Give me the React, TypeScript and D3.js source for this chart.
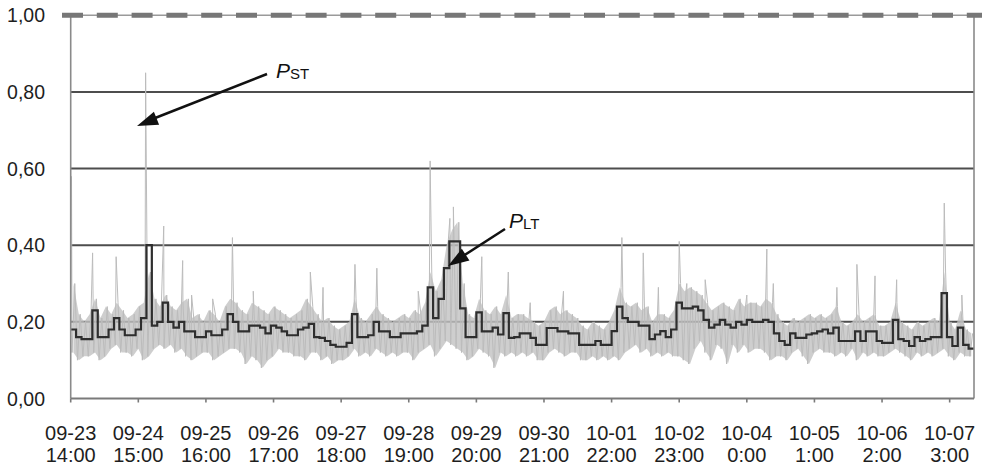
import React from "react";
import * as d3 from "d3";

const W = 982;
const H = 468;

// x axis: hours since 09-23 14:00, one label every 25 h
const tickDates = ["09-23", "09-24", "09-25", "09-26", "09-27", "09-28", "09-29", "09-30", "10-01", "10-02", "10-04", "10-05", "10-06", "10-07"];
const tickTimes = ["14:00", "15:00", "16:00", "17:00", "18:00", "19:00", "20:00", "21:00", "22:00", "23:00", "0:00", "1:00", "2:00", "3:00"];
const tickHours = [0, 25, 50, 75, 100, 125, 150, 175, 200, 225, 250, 275, 300, 325];
const yTicks = [0, 0.2, 0.4, 0.6, 0.8, 1.0];
const limit = 1.0;

// P_LT, 2-hour values
const pltValues = [
  0.18, 0.16, 0.155, 0.155, 0.23, 0.16, 0.16, 0.18, 0.21, 0.18,
  0.165, 0.165, 0.18, 0.21, 0.40, 0.19, 0.20, 0.25, 0.20, 0.185,
  0.20, 0.175, 0.175, 0.16, 0.16, 0.175, 0.165, 0.165, 0.18, 0.22,
  0.20, 0.175, 0.175, 0.19, 0.19, 0.185, 0.17, 0.19, 0.185, 0.175,
  0.165, 0.165, 0.18, 0.185, 0.195, 0.16, 0.158, 0.15, 0.14, 0.135,
  0.135, 0.145, 0.22, 0.16, 0.16, 0.165, 0.20, 0.175, 0.175, 0.16,
  0.16, 0.17, 0.17, 0.17, 0.175, 0.19, 0.29, 0.21, 0.26, 0.34,
  0.41, 0.41, 0.235, 0.16, 0.16, 0.225, 0.175, 0.175, 0.185, 0.167,
  0.223, 0.158, 0.16, 0.17, 0.17, 0.158, 0.14, 0.14, 0.184, 0.184,
  0.175, 0.175, 0.17, 0.17, 0.14, 0.14, 0.14, 0.15, 0.14, 0.14,
  0.176, 0.24, 0.21, 0.20, 0.20, 0.19, 0.19, 0.155, 0.167, 0.176,
  0.16, 0.18, 0.25, 0.235, 0.235, 0.24, 0.23, 0.205, 0.185, 0.193,
  0.205, 0.193, 0.185, 0.20, 0.193, 0.205, 0.20, 0.20, 0.205, 0.20,
  0.17, 0.15, 0.14, 0.17, 0.158, 0.158, 0.167, 0.17, 0.175, 0.18,
  0.17, 0.185, 0.15, 0.15, 0.15, 0.175, 0.15, 0.175, 0.175, 0.15,
  0.145, 0.145, 0.205, 0.155, 0.15, 0.137, 0.16, 0.15, 0.155, 0.16,
  0.16, 0.275, 0.16, 0.137, 0.185, 0.14, 0.13,
];

// P_ST, low / high envelope for the same 2-hour steps
const pstLow = [
  0.12, 0.10, 0.11, 0.11, 0.12, 0.10, 0.11, 0.13, 0.14, 0.12,
  0.12, 0.11, 0.13, 0.10, 0.11, 0.13, 0.14, 0.13, 0.14, 0.12,
  0.13, 0.11, 0.10, 0.11, 0.12, 0.12, 0.10, 0.11, 0.12, 0.13,
  0.13, 0.12, 0.09, 0.11, 0.10, 0.08, 0.10, 0.11, 0.13, 0.12,
  0.12, 0.11, 0.11, 0.10, 0.12, 0.12, 0.10, 0.11, 0.09, 0.10,
  0.10, 0.11, 0.13, 0.11, 0.12, 0.11, 0.13, 0.12, 0.11, 0.12,
  0.11, 0.12, 0.12, 0.10, 0.12, 0.13, 0.14, 0.11, 0.13, 0.15,
  0.14, 0.13, 0.12, 0.10, 0.11, 0.13, 0.12, 0.11, 0.08, 0.12,
  0.11, 0.12, 0.11, 0.12, 0.11, 0.12, 0.10, 0.10, 0.12, 0.13,
  0.12, 0.11, 0.12, 0.12, 0.10, 0.10, 0.11, 0.10, 0.11, 0.10,
  0.11, 0.10, 0.12, 0.13, 0.14, 0.12, 0.13, 0.11, 0.12, 0.11,
  0.12, 0.11, 0.11, 0.10, 0.09, 0.13, 0.15, 0.12, 0.10, 0.14,
  0.13, 0.09, 0.14, 0.12, 0.14, 0.12, 0.13, 0.13, 0.12, 0.10,
  0.11, 0.11, 0.10, 0.12, 0.13, 0.11, 0.09, 0.12, 0.13, 0.12,
  0.12, 0.11, 0.12, 0.11, 0.13, 0.10, 0.12, 0.11, 0.12, 0.11,
  0.11, 0.12, 0.13, 0.12, 0.11, 0.10, 0.12, 0.11, 0.12, 0.11,
  0.12, 0.13, 0.11, 0.10, 0.12, 0.11, 0.11,
];
const pstHigh = [
  0.30, 0.22, 0.20, 0.22, 0.26, 0.21, 0.24, 0.22, 0.25, 0.23,
  0.21, 0.22, 0.24, 0.25, 0.33, 0.26, 0.24, 0.27, 0.24, 0.23,
  0.25, 0.26, 0.21, 0.22, 0.20, 0.23, 0.22, 0.20, 0.24, 0.26,
  0.25, 0.23, 0.22, 0.25, 0.24, 0.23, 0.22, 0.24, 0.23, 0.22,
  0.21, 0.22, 0.23, 0.26, 0.24, 0.22, 0.20, 0.21, 0.19, 0.18,
  0.19, 0.20, 0.26, 0.21, 0.20, 0.22, 0.24, 0.22, 0.21, 0.20,
  0.21, 0.22, 0.21, 0.23, 0.22, 0.25, 0.33, 0.28, 0.31, 0.40,
  0.44, 0.46, 0.30, 0.22, 0.21, 0.26, 0.23, 0.22, 0.24, 0.22,
  0.27, 0.21, 0.22, 0.22, 0.21, 0.20, 0.19, 0.20, 0.23, 0.24,
  0.22, 0.23, 0.22, 0.21, 0.19, 0.18, 0.20, 0.19, 0.18, 0.20,
  0.23, 0.29, 0.25, 0.24, 0.25, 0.23, 0.24, 0.20, 0.22, 0.22,
  0.21, 0.23, 0.30, 0.28, 0.29, 0.28, 0.27, 0.25, 0.23, 0.24,
  0.25, 0.24, 0.23, 0.26, 0.24, 0.25, 0.25, 0.24, 0.26, 0.25,
  0.22, 0.20, 0.19, 0.21, 0.20, 0.21, 0.22, 0.21, 0.22, 0.21,
  0.22, 0.24, 0.20, 0.19, 0.20, 0.22, 0.20, 0.21, 0.22, 0.19,
  0.19, 0.20, 0.25, 0.20, 0.19, 0.18, 0.20, 0.19, 0.20, 0.21,
  0.20, 0.33, 0.20, 0.18, 0.23, 0.18, 0.17,
];

// isolated P_ST peaks: [hour, value]
const pstSpikes: [number, number][] = [
  [0.3, 0.58], [8.1, 0.38], [16.8, 0.37], [27.7, 0.85], [34.4, 0.45], [41.4, 0.36],
  [44.7, 0.27], [52.5, 0.26], [59.8, 0.42], [67.5, 0.28], [88.6, 0.33], [93.3, 0.29],
  [105.1, 0.35], [113.2, 0.34], [128.5, 0.28], [132.9, 0.62], [140.2, 0.47], [141.5, 0.5],
  [152, 0.37], [161.8, 0.33], [169.9, 0.25], [182.2, 0.28], [203.8, 0.42], [211.7, 0.38],
  [217.3, 0.29], [225, 0.41], [227.8, 0.3], [234.6, 0.31], [250, 0.27], [257.4, 0.39],
  [259.8, 0.3], [283.3, 0.29], [290.7, 0.35], [297.4, 0.32], [305.4, 0.31], [323, 0.51],
  [329.5, 0.27],
];

const STEP = 2;
const font = "'Liberation Sans', Arial, sans-serif";

function arrowHead(x1: number, y1: number, x2: number, y2: number, len = 21, half = 7) {
  const a = Math.atan2(y2 - y1, x2 - x1);
  const bx = x2 - len * Math.cos(a);
  const by = y2 - len * Math.sin(a);
  const px = -Math.sin(a) * half;
  const py = Math.cos(a) * half;
  return `M${x2},${y2}L${bx + px},${by + py}L${bx - px},${by - py}Z`;
}

export default function App() {
  const x = d3.scaleLinear().domain([0, pltValues.length * STEP]).range([70.7, 974]);
  const y = d3.scaleLinear().domain([0, 1]).range([398.5, 15.3]);
  const fmt = (v: number) => d3.format(".2f")(v).replace(".", ",");

  const pstPts: [number, number][] = [];
  pstLow.forEach((lo, i) => {
    pstPts.push([i * STEP + 0.5, lo]);
    pstPts.push([i * STEP + 1.5, pstHigh[i]]);
  });
  pstSpikes.forEach((s) => pstPts.push(s));
  pstPts.sort((a, b) => a[0] - b[0]);

  const pstLine = d3.line<[number, number]>().x((d) => x(d[0])).y((d) => y(d[1]));
  const band = d3
    .area<number>()
    .x((_, i) => x(i * STEP + 1))
    .y0((d) => y(d))
    .y1((_, i) => y(pstHigh[i]));

  const pltPts: [number, number][] = pltValues.map((v, i) => [i * STEP, v]);
  pltPts.push([pltValues.length * STEP, pltValues[pltValues.length - 1]]);
  const pltLine = d3.line<[number, number]>().x((d) => x(d[0])).y((d) => y(d[1])).curve(d3.curveStepAfter);

  const x0 = x.range()[0];
  const x1 = x.range()[1];

  return (
    <svg width={W} height={H} style={{ position: "absolute", left: 0, top: 0, background: "#fff" }}>
      {/* grid */}
      {yTicks.filter((t) => t > 0 && t < limit).map((t) => (
        <line key={t} x1={x0} x2={x1} y1={y(t)} y2={y(t)} stroke="#4d4d4d" strokeWidth={2} />
      ))}

      {/* P_ST */}
      <path d={band(pstLow) || ""} fill="#c2c2c2" fillOpacity={0.8} />
      <path d={pstLine(pstPts) || ""} fill="none" stroke="#bcbcbc" strokeWidth={1} />

      {/* P_LT */}
      <path d={pltLine(pltPts) || ""} fill="none" stroke="#2e2e2e" strokeWidth={2.2} />

      {/* frame */}
      <line x1={x0} x2={x0} y1={y(limit)} y2={y(0)} stroke="#8a8a8a" strokeWidth={1.6} />
      <line x1={x1} x2={x1} y1={y(limit)} y2={y(0)} stroke="#8a8a8a" strokeWidth={1.6} />
      <line x1={x0} x2={x1} y1={y(0)} y2={y(0)} stroke="#7a7a7a" strokeWidth={2} />
      {tickHours.map((h) => (
        <line key={h} x1={x(h)} x2={x(h)} y1={y(0)} y2={y(0) + 4} stroke="#7a7a7a" strokeWidth={1.6} />
      ))}

      {/* limit line */}
      <line x1={62} x2={982} y1={y(limit)} y2={y(limit)} stroke="#9a9a9a" strokeWidth={1.5} />
      <line x1={62} x2={982} y1={y(limit)} y2={y(limit)} stroke="#777" strokeWidth={5} strokeDasharray="21 13.8" />

      {/* y labels */}
      {yTicks.map((t) => (
        <text key={t} x={45} y={y(t) + 7} textAnchor="end" fontFamily={font} fontSize={19.5} fill="#1e1e1e">
          {fmt(t)}
        </text>
      ))}

      {/* x labels */}
      {tickHours.map((h, i) => (
        <text key={h} textAnchor="middle" fontFamily={font} fontSize={20} fill="#1e1e1e">
          <tspan x={x(h)} y={440}>{tickDates[i]}</tspan>
          <tspan x={x(h)} y={462}>{tickTimes[i]}</tspan>
        </text>
      ))}

      {/* annotations */}
      <line x1={267} y1={74} x2={150} y2={120} stroke="#111" strokeWidth={2.5} />
      <path d={arrowHead(267, 74, 137, 126)} fill="#111" />
      <text x={276} y={78} fontFamily={font} fill="#111">
        <tspan fontSize={21} fontStyle="italic">P</tspan>
        <tspan fontSize={15} dy={1}>ST</tspan>
      </text>

      <line x1={505} y1={229} x2={460} y2={258} stroke="#111" strokeWidth={2.5} />
      <path d={arrowHead(505, 229, 448, 266)} fill="#111" />
      <text x={509} y={228} fontFamily={font} fill="#111">
        <tspan fontSize={21} fontStyle="italic">P</tspan>
        <tspan fontSize={15} dy={1}>LT</tspan>
      </text>
    </svg>
  );
}
